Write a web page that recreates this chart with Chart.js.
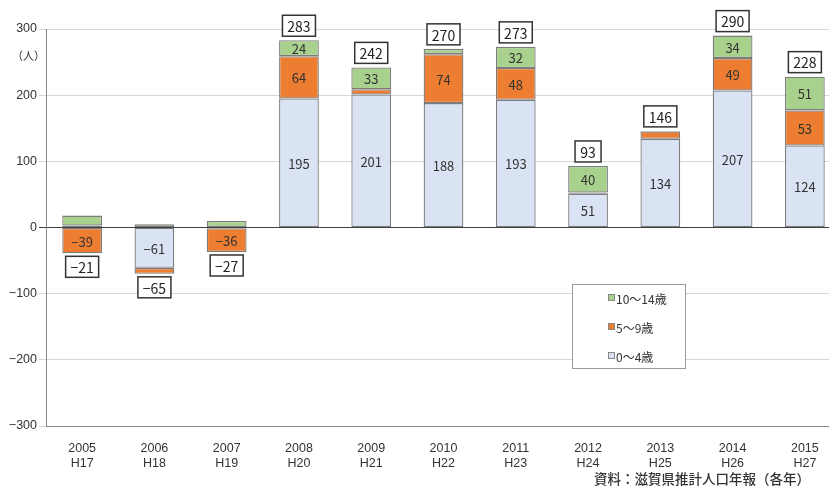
<!DOCTYPE html>
<html lang="ja">
<head>
<meta charset="utf-8">
<script src="https://cdn.jsdelivr.net/npm/chart.js@4/dist/chart.umd.min.js"></script>
<style>
  html, body { margin: 0; padding: 0; background: #fff; width: 829px; height: 486px; overflow: hidden; }
  #wrap { position: relative; width: 845px; height: 486px; }
  #unit { position: absolute; left: 12px; top: 47px; font: 11px "Noto Sans CJK JP"; color: #333; }
  #src { position: absolute; left: 594px; top: 468px; font: 500 13.5px "Noto Sans CJK JP"; color: #333; white-space: nowrap; }
</style>
</head>
<body>
<div id="wrap">
  <canvas id="c" width="845" height="486"></canvas>
  <div id="unit">（人）</div>
  <div id="src">資料：滋賀県推計人口年報（各年）</div>
</div>
<script>
// 滋賀県 年少人口の社会増減（年齢階級別）
const years = ['2005', '2006', '2007', '2008', '2009', '2010', '2011', '2012', '2013', '2014', '2015'];
const eras  = ['H17', 'H18', 'H19', 'H20', 'H21', 'H22', 'H23', 'H24', 'H25', 'H26', 'H27'];
const age0to4   = [3, -61, -1, 195, 201, 188, 193, 51, 134, 207, 124];
const age5to9   = [-39, -9, -36, 64, 8, 74, 48, 2, 11, 49, 53];
const age10to14 = [15, 5, 10, 24, 33, 8, 32, 40, 1, 34, 51];
const totals    = [-21, -65, -27, 283, 242, 270, 273, 93, 146, 290, 228];
const yTicks    = [-300, -200, -100, 0, 100, 200, 300];

const MINUS = '\u2212';
const fmt = v => (v < 0 ? MINUS + Math.abs(v) : String(v));
const LABEL_MIN = 20;   // segments smaller than this carry no value label

const series = [
  { label: '0～4歳',   data: age0to4,   color: '#DAE3F3' },
  { label: '5～9歳',   data: age5to9,   color: '#ED7D31' },
  { label: '10～14歳', data: age10to14, color: '#A9D18E' }
];

const numFont = '"Noto Sans CJK JP", "Noto Sans", sans-serif';

const valueLabels = {
  id: 'valueLabels',
  afterDatasetsDraw(chart) {
    const ctx = chart.ctx;
    const ys = chart.scales.y;
    ctx.save();
    ctx.textAlign = 'center';
    ctx.textBaseline = 'middle';
    ctx.fillStyle = '#333';
    ctx.font = '13px ' + numFont;
    chart.data.datasets.forEach((ds, di) => {
      chart.getDatasetMeta(di).data.forEach((bar, i) => {
        const v = ds.data[i];
        if (Math.abs(v) < LABEL_MIN) return;
        ctx.fillText(fmt(v), bar.x, (bar.y + bar.base) / 2 + 1);
      });
    });

    // boxed totals above (or below) each stack
    ctx.font = '14px ' + numFont;
    totals.forEach((t, i) => {
      const x = chart.getDatasetMeta(0).data[i].x;
      let pos = 0, neg = 0;
      series.forEach(s => { if (s.data[i] > 0) pos += s.data[i]; else neg += s.data[i]; });
      const txt = fmt(t);
      const w = Math.round(ctx.measureText(txt).width) + 10;
      const h = 21;
      let top;
      if (t >= 0) top = ys.getPixelForValue(pos) - 4 - h;
      else top = ys.getPixelForValue(neg) + 3;
      ctx.fillStyle = '#fff';
      ctx.fillRect(x - w / 2, top, w, h);
      ctx.strokeStyle = '#333';
      ctx.lineWidth = 1.5;
      ctx.strokeRect(x - w / 2, top, w, h);
      ctx.fillStyle = '#222';
      ctx.fillText(txt, x, top + h / 2 + 1);
    });

    // legend panel
    const lx = 572.5, ly = 284.5, lw = 113, lh = 84;
    ctx.fillStyle = '#fff';
    ctx.fillRect(lx, ly, lw, lh);
    ctx.strokeStyle = '#9a9a9a';
    ctx.lineWidth = 1;
    ctx.strokeRect(lx, ly, lw, lh);
    ctx.font = '12px ' + numFont;
    ctx.textAlign = 'left';
    const rows = [series[2], series[1], series[0]];
    rows.forEach((s, k) => {
      const cy = 298 + k * 29;
      ctx.fillStyle = s.color;
      ctx.fillRect(608.5, cy - 3.5, 6, 6);
      ctx.strokeStyle = '#888';
      ctx.strokeRect(608.5, cy - 3.5, 6, 6);
      ctx.fillStyle = '#333';
      ctx.fillText(s.label, 616, cy + 1);
    });
    ctx.restore();
  }
};

new Chart(document.getElementById('c'), {
  type: 'bar',
  data: {
    labels: years.map((y, i) => [y, eras[i]]),
    datasets: series.map(s => ({
      label: s.label,
      data: s.data,
      backgroundColor: s.color,
      borderColor: '#7c7c7c',
      borderWidth: 1.3,
      borderSkipped: false,
      stack: 'age',
      barPercentage: 0.55,
      categoryPercentage: 1
    }))
  },
  options: {
    responsive: false,
    animation: false,
    layout: { padding: { top: 29, right: 4, left: 0, bottom: 0 } },
    plugins: { legend: { display: false }, tooltip: { enabled: false } },
    scales: {
      x: {
        stacked: true,
        grid: { display: false },
        border: { color: '#888', width: 1 },
        ticks: {
          color: '#333',
          padding: 7,
          maxRotation: 0,
          font: { family: '"Liberation Sans", Arial, sans-serif', size: 12.5, lineHeight: 1.2 }
        },
        afterFit(s) { s.height = 60; }
      },
      y: {
        stacked: true,
        min: yTicks[0],
        max: yTicks[yTicks.length - 1],
        afterBuildTicks(s) { s.ticks = yTicks.map(v => ({ value: v })); },
        grid: {
          color: c => (c.tick && c.tick.value === 0 ? '#404040' : '#d6d6d6'),
          tickLength: 7,
          lineWidth: 1
        },
        border: { color: '#888', width: 1 },
        ticks: {
          color: '#333',
          padding: 2,
          font: { family: '"Liberation Sans", Arial, sans-serif', size: 12.5 },
          callback: v => fmt(v)
        },
        afterFit(s) { s.width = 46; }
      }
    }
  },
  plugins: [valueLabels]
});
</script>
</body>
</html>
